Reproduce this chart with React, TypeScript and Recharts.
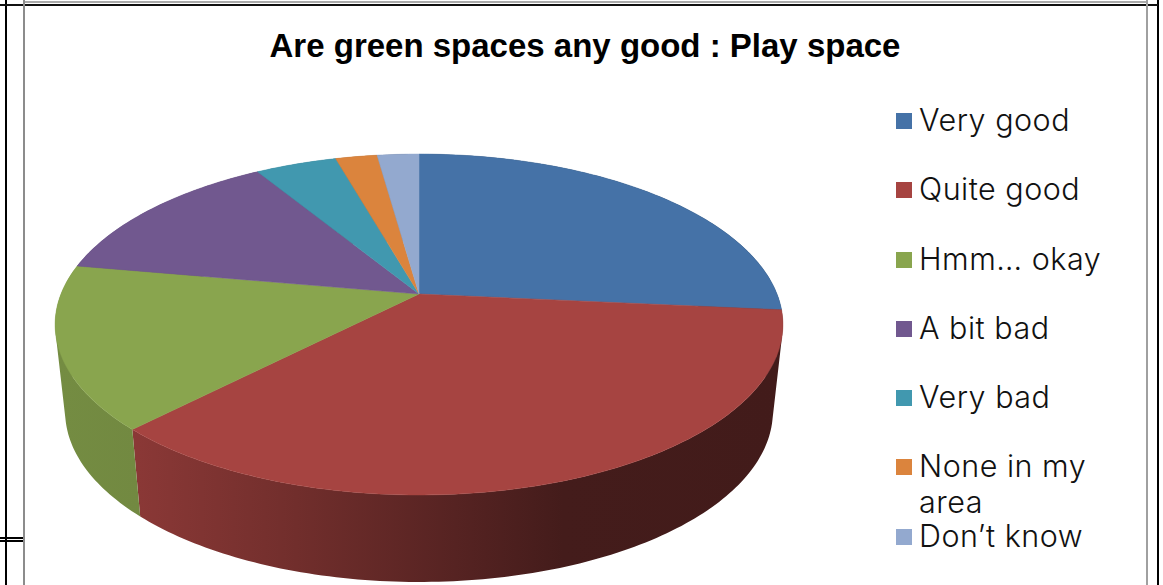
import React from 'react';
import { PieChart, Pie, Legend } from 'recharts';

const categories = ['Very good', 'Quite good', 'Hmm… okay', 'A bit bad', 'Very bad', 'None in my area', 'Don’t know'];
const shares = [26.5, 35.8, 15.5, 13.5, 4.3, 2.2, 2.2];
const colors = ['#4572A7', '#A64441', '#89A54E', '#71588F', '#4198AF', '#DB843D', '#93A9CF'];
const titleText = 'Are green spaces any good : Play space';

const rows = categories.map((name, i) => ({ name, value: shares[i], fill: colors[i] }));

const W = 1163;
const H = 585;
const TILT = 165 / 358;
const PERSP = 0.179;
const DEPTH_SCALE_X = 0.9725;
const DEPTH_DROP = 87;

function project(r: number, deg: number) {
  const t = ((90 - deg) * Math.PI) / 180;
  const s = Math.sin(t);
  const c = Math.cos(t);
  const w = 1 + PERSP * c;
  return { dx: (r * s) / w, dy: (-r * TILT * c) / w };
}

function arcPts(r: number, a0: number, a1: number) {
  const n = Math.max(2, Math.ceil(Math.abs(a1 - a0)));
  const out: { dx: number; dy: number }[] = [];
  for (let i = 0; i <= n; i++) out.push(project(r, a0 + ((a1 - a0) * i) / n));
  return out;
}

function shade(hex: string, f: number) {
  const n = parseInt(hex.slice(1), 16);
  const ch = (v: number) => Math.round(v * f);
  return `rgb(${ch((n >> 16) & 255)},${ch((n >> 8) & 255)},${ch(n & 255)})`;
}

function TopFace(p: any) {
  const { cx, cy, outerRadius, startAngle, endAngle, fill } = p;
  const pts = arcPts(outerRadius, startAngle, endAngle);
  const d = `M${cx},${cy} ` + pts.map((q) => `L${cx + q.dx},${cy + q.dy}`).join(' ') + ' Z';
  return <path d={d} fill={fill} stroke={fill} strokeWidth={0.5} />;
}

function WallFace(p: any) {
  const { cx, cy, outerRadius, startAngle, endAngle, fill, index } = p;
  const pts = arcPts(outerRadius, startAngle, endAngle);
  const id = `wall-${index}`;
  let d = '';
  pts.slice(1).forEach((q, i) => {
    const a = pts[i];
    const corners: [number, number][] = [
      [cx + a.dx, cy + a.dy],
      [cx + q.dx, cy + q.dy],
      [cx + q.dx * DEPTH_SCALE_X, cy + q.dy + DEPTH_DROP],
      [cx + a.dx * DEPTH_SCALE_X, cy + a.dy + DEPTH_DROP],
    ];
    let area = 0;
    corners.forEach((c, k) => {
      const n = corners[(k + 1) % 4];
      area += c[0] * n[1] - n[0] * c[1];
    });
    const ordered = area < 0 ? corners.slice().reverse() : corners;
    d += 'M' + ordered.map((c) => `${c[0]},${c[1]}`).join('L') + 'Z';
  });
  return (
    <g>
      <defs>
        <linearGradient id={id} gradientUnits="userSpaceOnUse" x1={cx - 360} x2={cx + 360} y1={0} y2={0}>
          <stop offset="0" stopColor={shade(fill, 0.85)} />
          <stop offset="0.11" stopColor={shade(fill, 0.83)} />
          <stop offset="0.33" stopColor={shade(fill, 0.68)} />
          <stop offset="0.55" stopColor={shade(fill, 0.52)} />
          <stop offset="0.7" stopColor={shade(fill, 0.41)} />
          <stop offset="1" stopColor={shade(fill, 0.4)} />
        </linearGradient>
      </defs>
      <path d={d} fill={`url(#${id})`} fillRule="nonzero" />
    </g>
  );
}

function LegendRows({ payload }: any) {
  const seen = new Set<string>();
  const items = (payload || []).filter((it: any) => {
    if (seen.has(it.value)) return false;
    seen.add(it.value);
    return true;
  });
  items.sort((a: any, b: any) => categories.indexOf(a.value) - categories.indexOf(b.value));
  return (
    <div style={{ position: 'relative', width: 250, height: 470 }}>
      {items.map((it: any, i: number) => (
        <div key={it.value} style={{ position: 'absolute', left: 0, top: i * 69.25, width: 210 }}>
          <div style={{ position: 'absolute', left: 0, top: 10, width: 16, height: 16, background: it.color }} />
          <div
            style={{
              position: 'absolute',
              left: 23,
              top: -1,
              width: 195,
              fontFamily: 'Inter, sans-serif',
              fontWeight: 300,
              fontSize: 30.5,
              letterSpacing: 0.5,
              lineHeight: '36px',
              color: '#111',
            }}
          >
            {it.value}
          </div>
        </div>
      ))}
    </div>
  );
}

const line = (l: number, t: number, w: number, h: number, c: string) => (
  <div style={{ position: 'absolute', left: l, top: t, width: w, height: h, background: c }} />
);

export default function App() {
  return (
    <div style={{ position: 'absolute', left: 0, top: 0, width: W, height: H, overflow: 'hidden', background: '#fff' }}>
      {line(5, 0, 2, H, '#000')}
      {line(1157, 0, 2, H, '#000')}
      {line(0, 4, 1158, 2, '#111')}
      {line(24, 1, 1123, 2, '#aaa')}
      {line(23, 0, 2, H, '#8c8c8c')}
      {line(1146, 0, 2, H, '#a0a0a0')}
      {line(0, 537, 23, 1.5, '#000')}
      {line(0, 540, 23, 1.5, '#000')}
      <div
        style={{
          position: 'absolute',
          left: 185,
          width: 800,
          top: 26,
          textAlign: 'center',
          fontFamily: '"Liberation Sans", Arial, sans-serif',
          fontWeight: 700,
          fontSize: 33,
          lineHeight: '40px',
          color: '#000',
        }}
      >
        {titleText}
      </div>
      <div style={{ position: 'absolute', left: 0, top: 0 }}>
        <PieChart width={W} height={H} margin={{ top: 0, right: 0, bottom: 0, left: 0 }}>
          <Pie
            data={rows}
            dataKey="value"
            nameKey="name"
            cx={419}
            cy={294}
            outerRadius={358}
            startAngle={90}
            endAngle={-270}
            stroke="none"
            legendType="none"
            shape={WallFace}
            isAnimationActive={false}
          />
          <Pie
            data={rows}
            dataKey="value"
            nameKey="name"
            cx={419}
            cy={294}
            outerRadius={358}
            startAngle={90}
            endAngle={-270}
            stroke="none"
            shape={TopFace}
            isAnimationActive={false}
          />
          <Legend
            content={LegendRows}
            layout="vertical"
            wrapperStyle={{ position: 'absolute', left: 896, top: 103, width: 250, height: 470 }}
          />
        </PieChart>
      </div>
    </div>
  );
}
